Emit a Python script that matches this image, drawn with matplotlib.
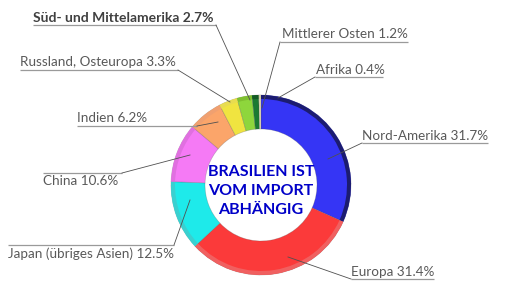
import matplotlib.pyplot as plt

plt.rcParams["font.family"] = ["Lato", "DejaVu Sans"]

regions = [
    "Nord-Amerika",
    "Europa",
    "Japan (übriges Asien)",
    "China",
    "Indien",
    "Russland, Osteuropa",
    "Süd- und Mittelamerika",
    "Mittlerer Osten",
    "Afrika",
]
shares = [31.7, 31.4, 12.5, 10.6, 6.2, 3.3, 2.7, 1.2, 0.4]
colors = ["#3535f5", "#fb3a3a", "#1eeaea", "#f57af5", "#fba56a",
          "#f0e440", "#8ed63c", "#1b7a32", "#e6dcb8"]
rim_colors = ["#1c1c70", "#f06060", "#3ad0d0", "#e070e0", "#f0a070",
              "#e8dc50", "#7fc030", "#145a25", "#d8d0a8"]
explode = [0, 0, 0, 0, 0, 0, 0.07, 0.03, 0]
center_text = "BRASILIEN IST\nVOM IMPORT\nABHÄNGIG"

W, H = 518, 293
fig = plt.figure(figsize=(W / 100, H / 100), dpi=100)
ax = fig.add_axes([0, 0, 1, 1])

cx, cy, r_out, r_in = 261, H - 185, 90, 56

ax.pie(shares, colors=colors, startangle=90, counterclock=False,
       center=(cx, cy), radius=r_out, explode=explode, frame=True,
       wedgeprops=dict(width=r_out - r_in, edgecolor=(0.3, 0.3, 0.3, 0.3),
                       linewidth=0.5))
# darker outer rim, gives the ring a bit of depth
ax.pie(shares, colors=rim_colors, startangle=90, counterclock=False,
       center=(cx, cy), radius=r_out, explode=explode, frame=True,
       wedgeprops=dict(width=4, edgecolor="none"))

ax.text(cx, H - 191, center_text, ha="center", va="center", fontsize=11.5,
        fontweight="bold", color="#0000c8", linespacing=1.45)

# label layout in pixels from the top-left corner:
# text x, underline y, underline x0, x1, joint x, tip x, tip y, text below line
layout = [
    (362, 143, 362, 488, 362, 328, 159, False),
    (351, 279, 351, 434, 351, 288, 257, False),
    (8, 245, 8, 174, 174, 190, 200, True),
    (43, 173, 43, 122, 122, 190, 155, True),
    (77, 126, 77, 197, 197, 218, 122, False),
    (20, 70, 20, 178, 178, 230, 102, False),
    (33, 25, 33, 216, 216, 250, 100, False),
    (282, 42, 280, 408, 280, 262, 108, False),
    (316, 77, 315, 383, 315, 278, 98, False),
]

for name, val, (tx, ly, x0, x1, jx, px, py, below) in zip(regions, shares, layout):
    ax.plot([x0, x1], [H - ly, H - ly], color="#9a9a9a", lw=0.9,
            solid_capstyle="butt")
    ax.plot([jx, px], [H - ly, H - py], color="#505050", lw=0.6)
    bold = name.startswith("Süd")
    ax.text(tx, H - ly + (-2 if below else 1.5), f"{name} {val}%",
            ha="left", va="top" if below else "bottom",
            fontsize=10 if bold else 9.7,
            color="#404040" if bold else "#595959",
            fontweight="bold" if bold else "normal")

ax.set_xlim(0, W)
ax.set_ylim(0, H)
ax.set_aspect("equal")
ax.axis("off")

fig.savefig("out.png", dpi=100)
